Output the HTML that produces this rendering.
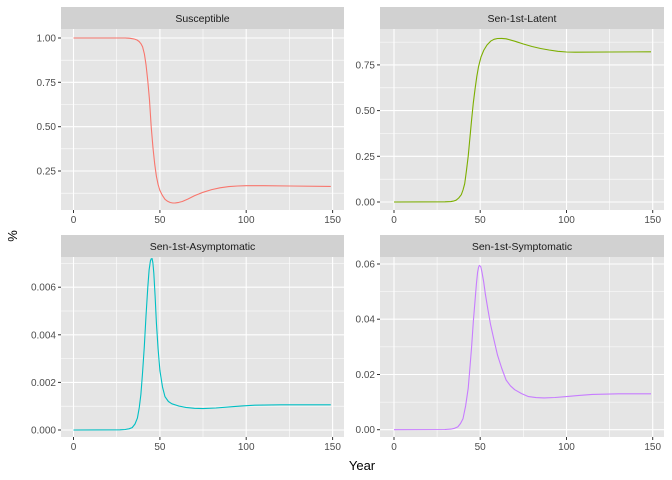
<!DOCTYPE html>
<html><head><meta charset="utf-8"><style>
body{margin:0;background:#fff}
svg{display:block;font-family:"Liberation Sans",sans-serif}
.mn{stroke:#fff;stroke-width:0.55}
.mj{stroke:#fff;stroke-width:1.1}
.tk{stroke:#333;stroke-width:1}
.yl{font-size:10px;fill:#4d4d4d;text-anchor:end}
.xl{font-size:10px;fill:#4d4d4d;text-anchor:middle}
.st{font-size:10.5px;fill:#1a1a1a;text-anchor:middle}
.c{fill:none;stroke-width:1.1;stroke-linejoin:round}
.sb{fill:#d1d1d1}
.pb{fill:#e5e5e5}
</style></head><body>
<svg width="672" height="480" xmlns="http://www.w3.org/2000/svg">
<defs>
<clipPath id="c1"><rect x="61" y="29" width="283" height="181"/></clipPath>
<clipPath id="c2"><rect x="380" y="29" width="284" height="181"/></clipPath>
<clipPath id="c3"><rect x="61" y="257" width="283" height="180"/></clipPath>
<clipPath id="c4"><rect x="380" y="257" width="284" height="180"/></clipPath>
</defs>

<!-- Panel 1 -->
<rect class="sb" x="61" y="7" width="283" height="22"/>
<text class="st" x="202.5" y="22">Susceptible</text>
<rect class="pb" x="61" y="29" width="283" height="181"/>
<g clip-path="url(#c1)">
<line class="mn" x1="61" x2="344" y1="60.2" y2="60.2"/><line class="mn" x1="61" x2="344" y1="104.5" y2="104.5"/><line class="mn" x1="61" x2="344" y1="148.8" y2="148.8"/><line class="mn" x1="61" x2="344" y1="193.2" y2="193.2"/>
<line class="mn" y1="29" y2="210" x1="116.7" x2="116.7"/><line class="mn" y1="29" y2="210" x1="203" x2="203"/><line class="mn" y1="29" y2="210" x1="289.4" x2="289.4"/>
<line class="mj" x1="61" x2="344" y1="38" y2="38"/><line class="mj" x1="61" x2="344" y1="82.3" y2="82.3"/><line class="mj" x1="61" x2="344" y1="126.7" y2="126.7"/><line class="mj" x1="61" x2="344" y1="171" y2="171"/>
<line class="mj" y1="29" y2="210" x1="73.5" x2="73.5"/><line class="mj" y1="29" y2="210" x1="159.9" x2="159.9"/><line class="mj" y1="29" y2="210" x1="246.2" x2="246.2"/><line class="mj" y1="29" y2="210" x1="332.6" x2="332.6"/>
<polyline class="c" stroke="#f8766d" points="73.5,38 125.3,38 130,38.3 133.9,38.9 137,40 139.1,41.5 141,43.8 142.6,46.9 144.4,54 146,64.6 147.8,81 149.5,100.1 151.2,126.7 153,147.9 154.7,164 156.4,176.3 158.1,184.5 159.9,190.5 162.5,195.6 165,199.3 167.6,201.3 170.2,202.5 172.8,203 175.4,202.9 178.8,202.4 182.3,201.5 188,199 194.4,195.8 203,192.3 211.7,189.6 220,187.8 228.9,186.6 237.5,186 246.2,185.7 263.5,185.7 290,186 330.8,186.4"/>
</g>
<g class="tk"><line x1="58" x2="61" y1="38" y2="38"/><line x1="58" x2="61" y1="82.3" y2="82.3"/><line x1="58" x2="61" y1="126.7" y2="126.7"/><line x1="58" x2="61" y1="171" y2="171"/>
<line x1="73.5" x2="73.5" y1="210" y2="213"/><line x1="159.9" x2="159.9" y1="210" y2="213"/><line x1="246.2" x2="246.2" y1="210" y2="213"/><line x1="332.6" x2="332.6" y1="210" y2="213"/></g>
<text class="yl" x="56" y="41.5">1.00</text><text class="yl" x="56" y="85.8">0.75</text><text class="yl" x="56" y="130.2">0.50</text><text class="yl" x="56" y="174.5">0.25</text>
<text class="xl" x="73.5" y="223">0</text><text class="xl" x="159.9" y="223">50</text><text class="xl" x="246.2" y="223">100</text><text class="xl" x="332.6" y="223">150</text>

<!-- Panel 2 -->
<rect class="sb" x="380" y="7" width="284" height="22"/>
<text class="st" x="522" y="22">Sen-1st-Latent</text>
<rect class="pb" x="380" y="29" width="284" height="181"/>
<g clip-path="url(#c2)">
<line class="mn" x1="380" x2="664" y1="42.1" y2="42.1"/><line class="mn" x1="380" x2="664" y1="87.8" y2="87.8"/><line class="mn" x1="380" x2="664" y1="133.5" y2="133.5"/><line class="mn" x1="380" x2="664" y1="179.2" y2="179.2"/>
<line class="mn" y1="29" y2="210" x1="437.1" x2="437.1"/><line class="mn" y1="29" y2="210" x1="523.4" x2="523.4"/><line class="mn" y1="29" y2="210" x1="609.6" x2="609.6"/>
<line class="mj" x1="380" x2="664" y1="64.9" y2="64.9"/><line class="mj" x1="380" x2="664" y1="110.6" y2="110.6"/><line class="mj" x1="380" x2="664" y1="156.3" y2="156.3"/><line class="mj" x1="380" x2="664" y1="202" y2="202"/>
<line class="mj" y1="29" y2="210" x1="394" x2="394"/><line class="mj" y1="29" y2="210" x1="480.2" x2="480.2"/><line class="mj" y1="29" y2="210" x1="566.5" x2="566.5"/><line class="mj" y1="29" y2="210" x1="652.7" x2="652.7"/>
<polyline class="c" stroke="#7cae00" points="394,202 445,201.8 450.9,201.6 453.5,201.1 456.1,200.2 458.7,198 461.3,194.7 463,190 464.7,183.7 466.4,171 468.2,156.3 469.9,138 471.6,119.8 473.3,103 475.1,88.7 476.8,76.5 478.5,66.8 481,57 483.7,50.4 487,45 490.6,41.2 494,39.3 497.5,38.5 501.8,38.4 506.1,38.8 514.7,41.2 523.4,44 532,46.5 540.6,48.5 549,50 557.8,51.3 566.5,52 575.1,52.2 610,52 651,51.8"/>
</g>
<g class="tk"><line x1="377" x2="380" y1="64.9" y2="64.9"/><line x1="377" x2="380" y1="110.6" y2="110.6"/><line x1="377" x2="380" y1="156.3" y2="156.3"/><line x1="377" x2="380" y1="202" y2="202"/>
<line x1="394" x2="394" y1="210" y2="213"/><line x1="480.2" x2="480.2" y1="210" y2="213"/><line x1="566.5" x2="566.5" y1="210" y2="213"/><line x1="652.7" x2="652.7" y1="210" y2="213"/></g>
<text class="yl" x="375" y="68.4">0.75</text><text class="yl" x="375" y="114.1">0.50</text><text class="yl" x="375" y="159.8">0.25</text><text class="yl" x="375" y="205.5">0.00</text>
<text class="xl" x="394" y="223">0</text><text class="xl" x="480.2" y="223">50</text><text class="xl" x="566.5" y="223">100</text><text class="xl" x="652.7" y="223">150</text>

<!-- Panel 3 -->
<rect class="sb" x="61" y="235" width="283" height="22"/>
<text class="st" x="202.5" y="250">Sen-1st-Asymptomatic</text>
<rect class="pb" x="61" y="257" width="283" height="180"/>
<g clip-path="url(#c3)">
<line class="mn" x1="61" x2="344" y1="263.4" y2="263.4"/><line class="mn" x1="61" x2="344" y1="311" y2="311"/><line class="mn" x1="61" x2="344" y1="358.6" y2="358.6"/><line class="mn" x1="61" x2="344" y1="406.2" y2="406.2"/>
<line class="mn" y1="257" y2="437" x1="116.7" x2="116.7"/><line class="mn" y1="257" y2="437" x1="203" x2="203"/><line class="mn" y1="257" y2="437" x1="289.4" x2="289.4"/>
<line class="mj" x1="61" x2="344" y1="287.2" y2="287.2"/><line class="mj" x1="61" x2="344" y1="334.8" y2="334.8"/><line class="mj" x1="61" x2="344" y1="382.4" y2="382.4"/><line class="mj" x1="61" x2="344" y1="430" y2="430"/>
<line class="mj" y1="257" y2="437" x1="73.5" x2="73.5"/><line class="mj" y1="257" y2="437" x1="159.9" x2="159.9"/><line class="mj" y1="257" y2="437" x1="246.2" x2="246.2"/><line class="mj" y1="257" y2="437" x1="332.6" x2="332.6"/>
<polyline class="c" stroke="#00bfc4" points="73.5,430 120,429.8 125.3,429.5 129,428.8 132.2,427.6 135,424 137.4,418.1 139.2,408 140.9,394.3 142.6,372 144.3,346.7 146,316 147.8,287.2 149.1,270 150.4,261 151.2,258.8 152.1,258.6 152.9,263 153.8,272.9 155.1,296 156.4,322.9 158.1,349 159.9,370.5 162.5,387 165,396.7 168.4,401.5 171.9,403.8 178.8,406 185.8,407.4 194.4,408.3 203,408.6 216,408 228.9,406.9 242,405.9 254.8,405.2 280.7,404.8 330.8,404.8"/>
</g>
<g class="tk"><line x1="58" x2="61" y1="287.2" y2="287.2"/><line x1="58" x2="61" y1="334.8" y2="334.8"/><line x1="58" x2="61" y1="382.4" y2="382.4"/><line x1="58" x2="61" y1="430" y2="430"/>
<line x1="73.5" x2="73.5" y1="437" y2="440"/><line x1="159.9" x2="159.9" y1="437" y2="440"/><line x1="246.2" x2="246.2" y1="437" y2="440"/><line x1="332.6" x2="332.6" y1="437" y2="440"/></g>
<text class="yl" x="56" y="290.7">0.006</text><text class="yl" x="56" y="338.3">0.004</text><text class="yl" x="56" y="385.9">0.002</text><text class="yl" x="56" y="433.5">0.000</text>
<text class="xl" x="73.5" y="450">0</text><text class="xl" x="159.9" y="450">50</text><text class="xl" x="246.2" y="450">100</text><text class="xl" x="332.6" y="450">150</text>

<!-- Panel 4 -->
<rect class="sb" x="380" y="235" width="284" height="22"/>
<text class="st" x="522" y="250">Sen-1st-Symptomatic</text>
<rect class="pb" x="380" y="257" width="284" height="180"/>
<g clip-path="url(#c4)">
<line class="mn" x1="380" x2="664" y1="291.6" y2="291.6"/><line class="mn" x1="380" x2="664" y1="346.9" y2="346.9"/><line class="mn" x1="380" x2="664" y1="402.1" y2="402.1"/>
<line class="mn" y1="257" y2="437" x1="437.1" x2="437.1"/><line class="mn" y1="257" y2="437" x1="523.4" x2="523.4"/><line class="mn" y1="257" y2="437" x1="609.6" x2="609.6"/>
<line class="mj" x1="380" x2="664" y1="264" y2="264"/><line class="mj" x1="380" x2="664" y1="319.2" y2="319.2"/><line class="mj" x1="380" x2="664" y1="374.5" y2="374.5"/><line class="mj" x1="380" x2="664" y1="429.7" y2="429.7"/>
<line class="mj" y1="257" y2="437" x1="394" x2="394"/><line class="mj" y1="257" y2="437" x1="480.2" x2="480.2"/><line class="mj" y1="257" y2="437" x1="566.5" x2="566.5"/><line class="mj" y1="257" y2="437" x1="652.7" x2="652.7"/>
<polyline class="c" stroke="#c77cff" points="394,429.7 445,429.5 450.9,429.1 454.5,428.3 457.8,426.9 460.5,423.5 463,418.7 465.6,406 468.2,388.3 469.9,368 471.6,346.9 473.3,322 475.1,299.9 476.4,284 477.6,272.3 478.5,267.5 479.4,265.4 480.7,266.5 482,272.3 483.7,282 485.4,294.4 488,310 490.6,324.8 494,340 497.5,355.1 501.8,368.5 506.1,380 510.4,385.8 514.7,389.7 521.6,393.6 528.5,396.6 536,397.6 544,397.9 555,397.5 566.5,396.6 579,395.4 592.3,394.4 618.2,393.8 651,393.8"/>
</g>
<g class="tk"><line x1="377" x2="380" y1="264" y2="264"/><line x1="377" x2="380" y1="319.2" y2="319.2"/><line x1="377" x2="380" y1="374.5" y2="374.5"/><line x1="377" x2="380" y1="429.7" y2="429.7"/>
<line x1="394" x2="394" y1="437" y2="440"/><line x1="480.2" x2="480.2" y1="437" y2="440"/><line x1="566.5" x2="566.5" y1="437" y2="440"/><line x1="652.7" x2="652.7" y1="437" y2="440"/></g>
<text class="yl" x="375" y="267.5">0.06</text><text class="yl" x="375" y="322.7">0.04</text><text class="yl" x="375" y="378">0.02</text><text class="yl" x="375" y="433.2">0.00</text>
<text class="xl" x="394" y="450">0</text><text class="xl" x="480.2" y="450">50</text><text class="xl" x="566.5" y="450">100</text><text class="xl" x="652.7" y="450">150</text>

<text x="362" y="470" font-size="13" fill="#000" text-anchor="middle">Year</text>
<text transform="translate(17,236) rotate(-90)" font-size="13" fill="#000" text-anchor="middle">%</text>
</svg>
</body></html>
